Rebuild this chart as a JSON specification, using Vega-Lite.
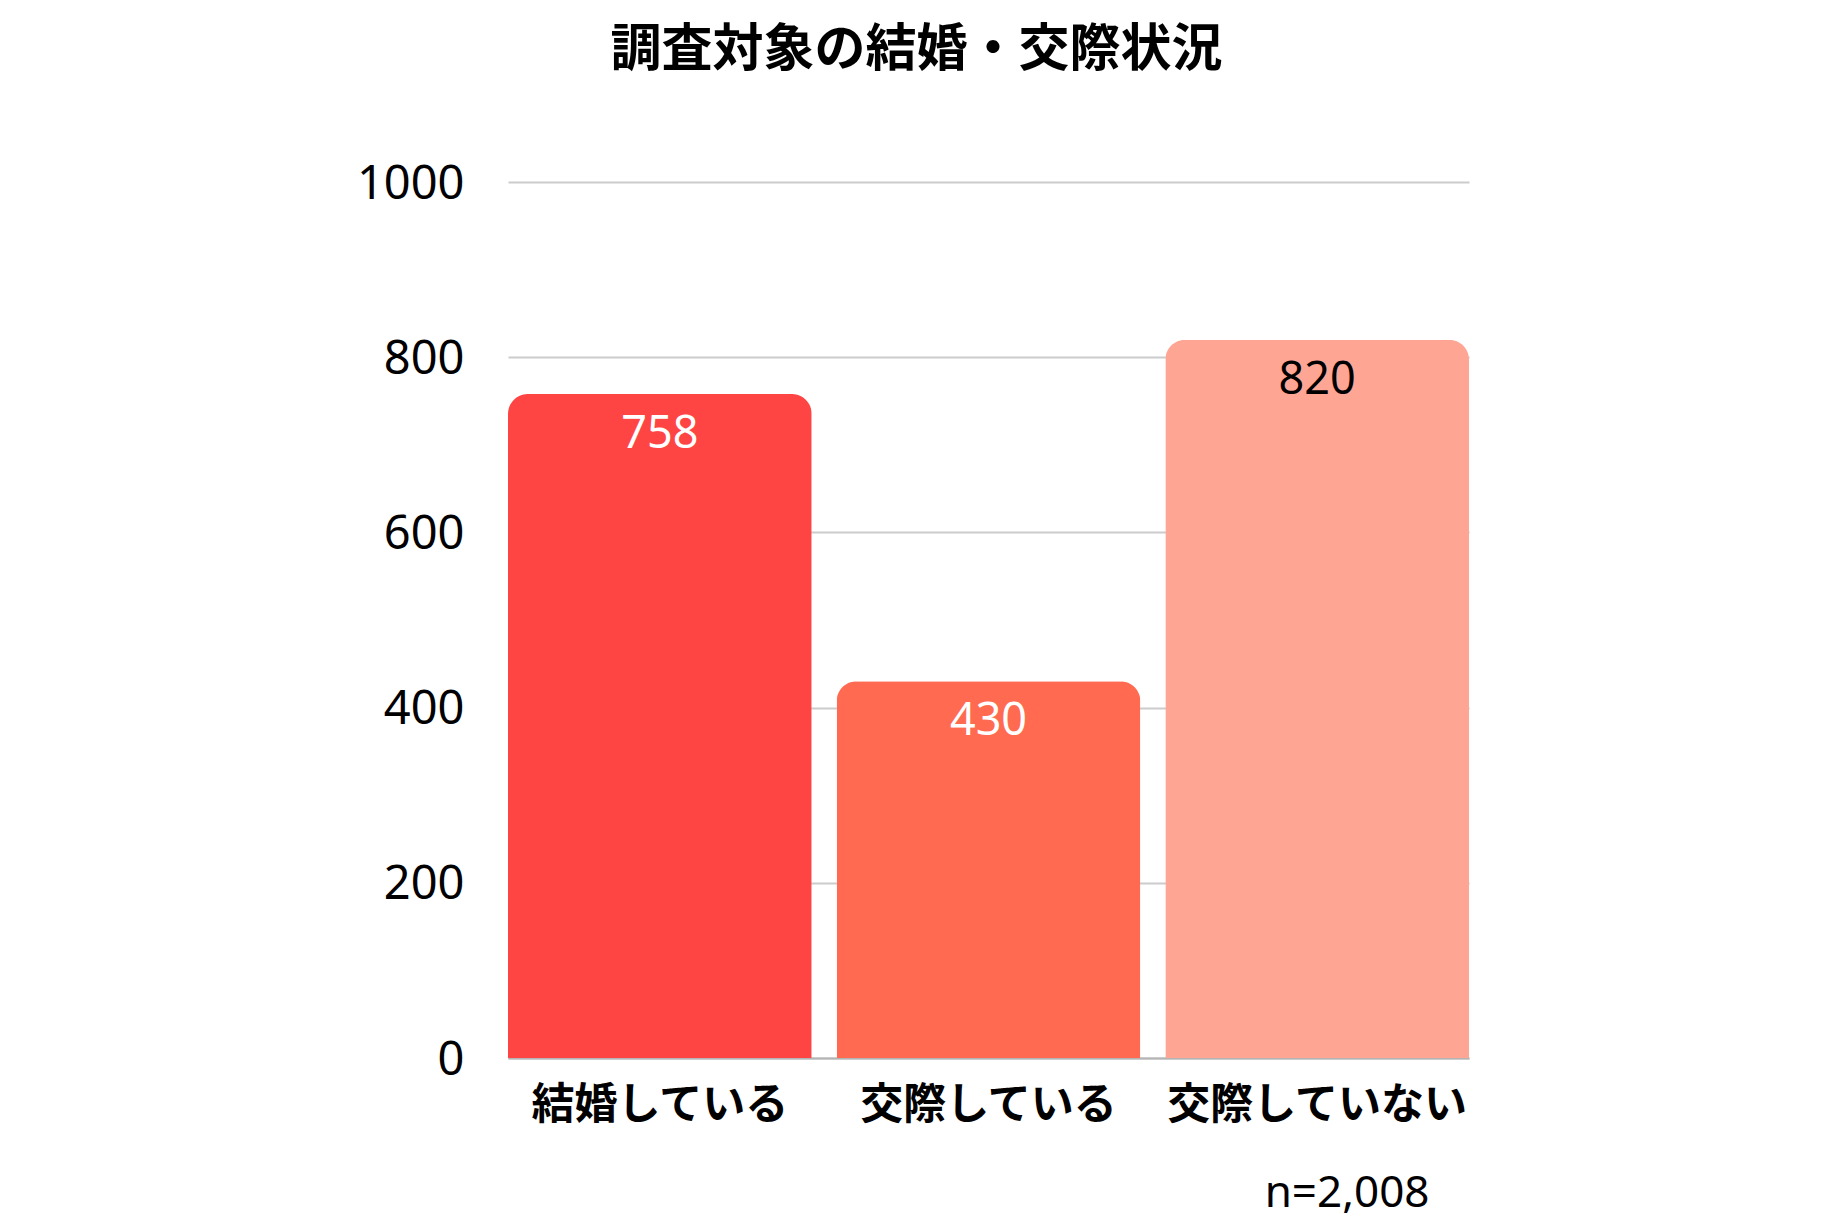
{
  "$schema": "https://vega.github.io/schema/vega-lite/v6.json",
  "autosize": "none",
  "padding": {"left": 508, "top": 182, "right": 363, "bottom": 170},
  "width": 961,
  "height": 876,
  "background": "white",
  "config": {"view": {"stroke": null}},
  "title": {
    "text": "調査対象の結婚・交際状況",
    "font": "Noto Sans CJK JP",
    "fontSize": 51,
    "fontWeight": "bold",
    "color": "#000000",
    "anchor": "middle",
    "dx": -72,
    "offset": 83
  },
  "data": {
    "values": [
      {"status": "結婚している", "count": 758, "fill": "c1"},
      {"status": "交際している", "count": 430, "fill": "c2"},
      {"status": "交際していない", "count": 820, "fill": "c3"}
    ]
  },
  "encoding": {
    "x": {
      "field": "status",
      "type": "nominal",
      "sort": null,
      "scale": {"paddingInner": 0.076, "paddingOuter": 0},
      "axis": {
        "title": "n=2,008",
        "titleFont": "Noto Sans",
        "titleFontSize": 44,
        "titleFontWeight": "normal",
        "titleColor": "#000000",
        "titleX": 921,
        "titleY": 135,
        "titleAlign": "right",
        "titleBaseline": "middle",
        "labelAngle": 0,
        "labelLimit": 0,
        "labelFont": "Noto Sans CJK JP",
        "labelFontSize": 43,
        "labelFontWeight": "bold",
        "labelColor": "#000000",
        "labelPadding": 26,
        "labelBaseline": "top",
        "ticks": false,
        "domain": true,
        "domainColor": "#b4b4b4",
        "domainWidth": 2,
        "grid": false
      }
    },
    "y": {
      "field": "count",
      "type": "quantitative",
      "scale": {"domain": [0, 1000]},
      "axis": {
        "title": null,
        "values": [0, 200, 400, 600, 800, 1000],
        "format": "d",
        "labelFont": "Noto Sans",
        "labelFontSize": 47,
        "labelColor": "#000000",
        "labelPadding": 44,
        "labelOffset": 2,
        "ticks": false,
        "domain": false,
        "grid": true,
        "gridColor": "#cccccc",
        "gridWidth": 2
      }
    }
  },
  "layer": [
    {
      "mark": {"type": "bar", "cornerRadiusTopLeft": 20, "cornerRadiusTopRight": 20},
      "encoding": {
        "color": {
          "field": "fill",
          "type": "nominal",
          "scale": {"domain": ["c1", "c2", "c3"], "range": ["#ff4444", "#ff6a50", "#ffa594"]},
          "legend": null
        }
      }
    },
    {
      "mark": {"type": "text", "font": "Noto Sans", "fontSize": 45, "baseline": "middle", "dy": 40},
      "encoding": {
        "text": {"field": "count", "type": "quantitative"},
        "color": {
          "field": "fill",
          "type": "nominal",
          "scale": {"domain": ["c1", "c2", "c3"], "range": ["#ff4444", "#ff6a50", "#ffa594"]},
          "legend": null
        },
        "fill": {
          "field": "fill",
          "type": "nominal",
          "scale": {"domain": ["c1", "c2", "c3"], "range": ["#ffffff", "#ffffff", "#000000"]},
          "legend": null
        }
      }
    }
  ]
}
